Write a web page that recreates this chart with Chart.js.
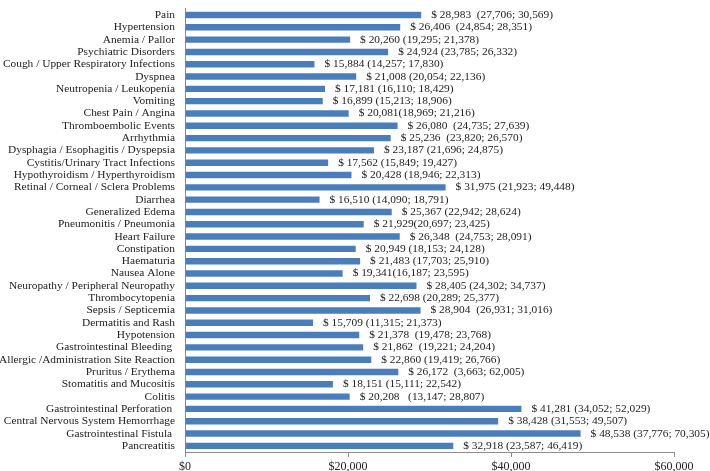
<!DOCTYPE html>
<html>
<head>
<meta charset="utf-8">
<script src="https://cdn.jsdelivr.net/npm/chart.js@4.4.7/dist/chart.umd.min.js"></script>
<style>
  html, body { margin: 0; padding: 0; background: #fff; }
  #wrap { width: 710px; height: 471px; position: relative; }
</style>
</head>
<body>
<div id="wrap"><canvas id="chart"></canvas></div>
<script>
var categories = [
  'Pain',
  'Hypertension',
  'Anemia / Pallor',
  'Psychiatric Disorders',
  'Cough / Upper Respiratory Infections',
  'Dyspnea',
  'Neutropenia / Leukopenia',
  'Vomiting',
  'Chest Pain / Angina',
  'Thromboembolic Events',
  'Arrhythmia',
  'Dysphagia / Esophagitis / Dyspepsia',
  'Cystitis/Urinary Tract Infections',
  'Hypothyroidism / Hyperthyroidism',
  'Retinal / Corneal / Sclera Problems',
  'Diarrhea',
  'Generalized Edema',
  'Pneumonitis / Pneumonia',
  'Heart Failure',
  'Constipation',
  'Haematuria',
  'Nausea Alone',
  'Neuropathy / Peripheral Neuropathy',
  'Thrombocytopenia',
  'Sepsis / Septicemia',
  'Dermatitis and Rash',
  'Hypotension',
  'Gastrointestinal Bleeding ',
  'Allergic /Administration Site Reaction',
  'Pruritus / Erythema',
  'Stomatitis and Mucositis',
  'Colitis',
  'Gastrointestinal Perforation ',
  'Central Nervous System Hemorrhage',
  'Gastrointestinal Fistula ',
  'Pancreatitis'
];

var meanCost = [
  28983, 26406, 20260, 24924, 15884, 21008, 17181, 16899, 20081, 26080,
  25236, 23187, 17562, 20428, 31975, 16510, 25367, 21929, 26348, 20949,
  21483, 19341, 28405, 22698, 28904, 15709, 21378, 21862, 22860, 26172,
  18151, 20208, 41281, 38428, 48538, 32918
];

var costLabels = [
  '$ 28,983  (27,706; 30,569)',
  '$ 26,406  (24,854; 28,351)',
  '$ 20,260 (19,295; 21,378)',
  '$ 24,924 (23,785; 26,332)',
  '$ 15,884 (14,257; 17,830)',
  '$ 21,008 (20,054; 22,136)',
  '$ 17,181 (16,110; 18,429)',
  '$ 16,899 (15,213; 18,906)',
  '$ 20,081(18,969; 21,216)',
  '$ 26,080  (24,735; 27,639)',
  '$ 25,236  (23,820; 26,570)',
  '$ 23,187 (21,696; 24,875)',
  '$ 17,562 (15,849; 19,427)',
  '$ 20,428 (18,946; 22,313)',
  '$ 31,975 (21,923; 49,448)',
  '$ 16,510 (14,090; 18,791)',
  '$ 25,367 (22,942; 28,624)',
  '$ 21,929(20,697; 23,425)',
  '$ 26,348  (24,753; 28,091)',
  '$ 20,949 (18,153; 24,128)',
  '$ 21,483 (17,703; 25,910)',
  '$ 19,341(16,187; 23,595)',
  '$ 28,405 (24,302; 34,737)',
  '$ 22,698 (20,289; 25,377)',
  '$ 28,904  (26,931; 31,016)',
  '$ 15,709 (11,315; 21,373)',
  '$ 21,378  (19,478; 23,768)',
  '$ 21,862  (19,221; 24,204)',
  '$ 22,860 (19,419; 26,766)',
  '$ 26,172  (3,663; 62,005)',
  '$ 18,151 (15,111; 22,542)',
  '$ 20,208   (13,147; 28,807)',
  '$ 41,281 (34,052; 52,029)',
  '$ 38,428 (31,553; 49,507)',
  '$ 48,538 (37,776; 70,305)',
  '$ 32,918 (23,587; 46,419)'
];

var xTicks = [0, 20000, 40000, 60000];

var FONT = { family: '"Liberation Serif", "Times New Roman", serif', size: 11.4 };

// writes the cost and interval text just past the end of each bar
var barText = {
  id: 'barText',
  afterDatasetsDraw: function (chart) {
    var ctx = chart.ctx;
    var meta = chart.getDatasetMeta(0);
    ctx.save();
    ctx.font = FONT.size + 'px ' + FONT.family;
    ctx.fillStyle = '#222';
    ctx.textAlign = 'left';
    ctx.textBaseline = 'middle';
    meta.data.forEach(function (bar, i) {
      ctx.fillText(costLabels[i], bar.x + 10, bar.y);
    });
    ctx.restore();
  }
};

var ctx = document.getElementById('chart').getContext('2d');
new Chart(ctx, {
  type: 'bar',
  data: {
    labels: categories,
    datasets: [{
      data: meanCost,
      backgroundColor: '#4a7ebb',
      borderWidth: 0,
      categoryPercentage: 1,
      barPercentage: 0.52
    }]
  },
  options: {
    indexAxis: 'y',
    responsive: true,
    maintainAspectRatio: false,
    animation: false,
    layout: { padding: { left: 0, right: 36, top: 1, bottom: 0 } },
    plugins: {
      legend: { display: false },
      tooltip: { enabled: false }
    },
    scales: {
      x: {
        min: 0,
        max: 60000,
        afterBuildTicks: function (axis) {
          axis.ticks = xTicks.map(function (v) { return { value: v }; });
        },
        afterFit: function (axis) { axis.height = 19; },
        grid: { drawOnChartArea: false, tickLength: 5, color: '#8c8c8c' },
        border: { color: '#8c8c8c' },
        ticks: {
          color: '#222',
          font: { family: FONT.family, size: 12 },
          padding: 3,
          maxRotation: 0,
          callback: function (v) { return '$' + v.toLocaleString('en-US'); }
        }
      },
      y: {
        afterFit: function (axis) { axis.width = 185; },
        grid: { display: false },
        border: { color: '#8c8c8c' },
        ticks: {
          color: '#222',
          font: FONT,
          padding: 2,
          autoSkip: false
        }
      }
    }
  },
  plugins: [barText]
});
</script>
</body>
</html>
